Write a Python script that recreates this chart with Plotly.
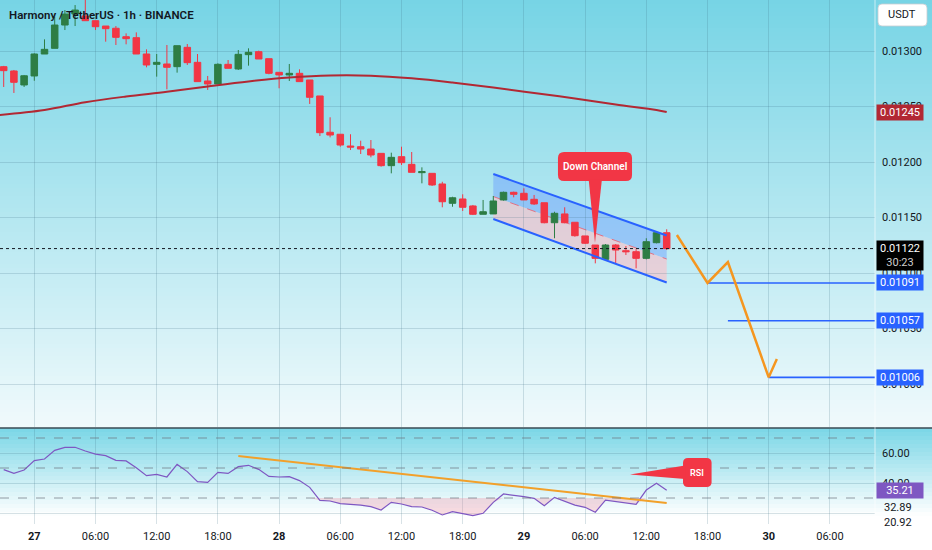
import plotly.graph_objects as go

# ---------------- data ----------------
hours = list(range(-3, 63))  # hourly candles, offset in hours from day 27 00:00

open_p = [0.012859, 0.012820, 0.012694, 0.012775, 0.012973, 0.013024, 0.013234, 0.013333, 0.013315, 0.013273,
          0.013225, 0.013205, 0.013129, 0.013120, 0.012973, 0.012880, 0.012883, 0.012859, 0.013033, 0.012898,
          0.012730, 0.012703, 0.012880, 0.012838, 0.012967, 0.012994, 0.012931, 0.012808, 0.012784, 0.012799,
          0.012739, 0.012595, 0.012268, 0.012250, 0.012144, 0.012138, 0.012117, 0.012078, 0.011967, 0.012048,
          0.011979, 0.011904, 0.011898, 0.011802, 0.011628, 0.011667, 0.011604, 0.011529, 0.011532, 0.011658,
          0.011727, 0.011718, 0.011664, 0.011633, 0.011453, 0.011532, 0.011457, 0.011334, 0.011252, 0.011123,
          0.011252, 0.011201, 0.011192, 0.011132, 0.011273, 0.011363]
high_p = [0.012866, 0.012829, 0.012784, 0.012979, 0.013105, 0.013309, 0.013369, 0.013414, 0.013480, 0.013273,
          0.013225, 0.013225, 0.013159, 0.013168, 0.013015, 0.012973, 0.013054, 0.013048, 0.013063, 0.012973,
          0.012775, 0.012889, 0.012919, 0.013009, 0.013024, 0.013003, 0.012931, 0.012808, 0.012883, 0.012835,
          0.012739, 0.012595, 0.012403, 0.012250, 0.012250, 0.012192, 0.012198, 0.012078, 0.012084, 0.012138,
          0.012090, 0.011952, 0.011898, 0.011822, 0.011687, 0.011709, 0.011613, 0.011658, 0.011694, 0.011733,
          0.011733, 0.011763, 0.011703, 0.011633, 0.011552, 0.011592, 0.011457, 0.011334, 0.011252, 0.011261,
          0.011261, 0.011243, 0.011214, 0.011313, 0.011372, 0.011394]
low_p = [0.012676, 0.012622, 0.012676, 0.012732, 0.012973, 0.013024, 0.013189, 0.013225, 0.013273, 0.013189,
         0.013084, 0.013054, 0.013060, 0.012973, 0.012853, 0.012769, 0.012655, 0.012805, 0.012874, 0.012724,
         0.012649, 0.012703, 0.012844, 0.012829, 0.012868, 0.012928, 0.012790, 0.012664, 0.012730, 0.012724,
         0.012523, 0.012234, 0.012222, 0.012138, 0.012108, 0.012072, 0.012042, 0.011958, 0.011898, 0.011973,
         0.011907, 0.011808, 0.011784, 0.011592, 0.011597, 0.011559, 0.011522, 0.011529, 0.011532, 0.011652,
         0.011682, 0.011658, 0.011613, 0.011448, 0.011313, 0.011448, 0.011327, 0.011261, 0.011087, 0.011117,
         0.011081, 0.011162, 0.011042, 0.011123, 0.011267, 0.011207]
close_p = [0.012823, 0.012718, 0.012777, 0.012973, 0.013015, 0.013234, 0.013333, 0.013369, 0.013273, 0.013219,
           0.013201, 0.013123, 0.013111, 0.012973, 0.012874, 0.012898, 0.012853, 0.013048, 0.012895, 0.012724,
           0.012703, 0.012880, 0.012844, 0.012970, 0.012988, 0.012928, 0.012799, 0.012784, 0.012799, 0.012724,
           0.012583, 0.012264, 0.012243, 0.012153, 0.012135, 0.012117, 0.012063, 0.011967, 0.012042, 0.011994,
           0.011907, 0.011913, 0.011793, 0.011642, 0.011678, 0.011592, 0.011529, 0.011552, 0.011649, 0.011727,
           0.011709, 0.011658, 0.011622, 0.011453, 0.011538, 0.011453, 0.011336, 0.011268, 0.011132, 0.011252,
           0.011207, 0.011192, 0.011132, 0.011282, 0.011363, 0.011220]

rsi_vals = [48.9, 46.4, 48.7, 54.9, 56.0, 61.8, 63.8, 63.8, 61.3, 59.3,
            58.2, 55.1, 54.7, 50.2, 44.9, 45.8, 44.0, 52.4, 47.6, 40.9,
            40.4, 47.1, 46.4, 50.9, 51.8, 49.1, 44.4, 44.0, 44.2, 41.6,
            37.1, 28.4, 28.0, 26.2, 25.8, 25.3, 24.2, 22.0, 27.1, 26.0,
            24.2, 24.0, 21.8, 18.7, 20.9, 19.6, 18.2, 19.8, 27.1, 32.7,
            32.0, 30.9, 29.8, 24.9, 30.4, 28.0, 25.3, 23.8, 20.5, 28.6,
            27.5, 26.7, 25.8, 35.3, 39.8, 35.2]

ma_hours = [-3.4, 1, 5, 9, 13, 17, 21, 25, 29, 33, 37, 41, 45, 49, 53, 57, 61, 62]
ma_vals = [0.012424, 0.012469, 0.012539, 0.012590, 0.012633, 0.012681, 0.012726, 0.012761, 0.012780,
           0.012778, 0.012754, 0.012716, 0.012671, 0.012622, 0.012572, 0.012518, 0.012469, 0.012450]

channel_hours = [45, 62]
channel_upper = [0.011892, 0.011338]
channel_mid = [0.011689, 0.011126]
channel_lower = [0.011487, 0.010914]

proj_hours = [63, 66, 68, 72, 72.8]
proj_prices = [0.011342, 0.010910, 0.011099, 0.010060, 0.010225]

target_levels = [0.01091, 0.01057, 0.01006]
target_start = [66, 68, 72]
target_labels = ["0.01091", "0.01057", "0.01006"]

rsi_trend_hours = [20, 62]
rsi_trend_vals = [58.0, 26.7]

tick_hours = [0, 6, 12, 18, 24, 30, 36, 42, 48, 54, 60, 66, 72, 78]
tick_labels = ["<b>27</b>", "06:00", "12:00", "18:00", "<b>28</b>", "06:00", "12:00", "18:00",
               "<b>29</b>", "06:00", "12:00", "18:00", "<b>30</b>", "06:00"]
price_ticks = [0.0100, 0.0105, 0.0110, 0.0115, 0.0120, 0.0125, 0.0130]

last_price = 0.01122
last_price_text = "0.01122"
countdown = "30:23"
ma_last = 0.01245
ma_last_text = "0.01245"
rsi_last = 35.21
rsi_last_text = "35.21"
extra_rsi_labels = [(24.0, "32.89"), (14.0, "20.92")]

title = "Harmony / TetherUS · 1h · BINANCE"

# ---------------- styling ----------------
W, H = 932, 550
ML, MR, MT, MB = 0, 57, 0, 26
PW = W - ML - MR      # 875
PH = H - MT - MB      # 524
RED = "#F23645"
GREEN = "#2E7D45"
BLUE = "#2962FF"
ORANGE = "#F5961F"
PURPLE = "#7E57C2"
TXT = "#131722"
FONT = "Roboto"

def py2paper(py):
    return 1 - py / PH

main_dom = [py2paper(427), 1.0]
rsi_dom = [0.0, py2paper(429)]
x_range = [-34.3 / 10.2, (PW - 34.3) / 10.2]
y_range = [0.0134595 - 427 / 111000, 0.0134595]
y2_range = [60 - (524 - 453) / 1.5, 60 + (453 - 429) / 1.5]

fig = go.Figure()

# moving average
fig.add_trace(go.Scatter(x=ma_hours, y=ma_vals, mode="lines", line=dict(color="#B22833", width=2, shape="spline"),
                         hoverinfo="skip", showlegend=False, xaxis="x", yaxis="y"))

# candles
fig.add_trace(go.Candlestick(
    x=hours, open=open_p, high=high_p, low=low_p, close=close_p,
    increasing=dict(line=dict(color=GREEN, width=1), fillcolor=GREEN),
    decreasing=dict(line=dict(color=RED, width=1), fillcolor=RED),
    whiskerwidth=0, showlegend=False, xaxis="x", yaxis="y"))

# channel borders
for arr in (channel_upper, channel_lower):
    fig.add_trace(go.Scatter(x=channel_hours, y=arr, mode="lines", line=dict(color=BLUE, width=2),
                             hoverinfo="skip", showlegend=False, xaxis="x", yaxis="y"))

# target levels
for lvl, st in zip(target_levels, target_start):
    fig.add_trace(go.Scatter(x=[st, x_range[1]], y=[lvl, lvl], mode="lines", line=dict(color=BLUE, width=1.6),
                             hoverinfo="skip", showlegend=False, xaxis="x", yaxis="y"))

# projection path
fig.add_trace(go.Scatter(x=proj_hours, y=proj_prices, mode="lines", line=dict(color=ORANGE, width=2.5),
                         hoverinfo="skip", showlegend=False, xaxis="x", yaxis="y"))

# RSI oversold fill
fig.add_trace(go.Scatter(x=hours, y=[30] * len(hours), mode="lines", line=dict(width=0),
                         hoverinfo="skip", showlegend=False, xaxis="x2", yaxis="y2"))
fig.add_trace(go.Scatter(x=hours, y=[min(v, 30) for v in rsi_vals], mode="lines", line=dict(width=0),
                         fill="tonexty", fillcolor="rgba(245,140,160,0.3)",
                         hoverinfo="skip", showlegend=False, xaxis="x2", yaxis="y2"))
fig.add_trace(go.Scatter(x=hours, y=rsi_vals, mode="lines", line=dict(color=PURPLE, width=1.2),
                         hoverinfo="skip", showlegend=False, xaxis="x2", yaxis="y2"))
fig.add_trace(go.Scatter(x=rsi_trend_hours, y=rsi_trend_vals, mode="lines", line=dict(color="#F2A02A", width=2),
                         hoverinfo="skip", showlegend=False, xaxis="x2", yaxis="y2"))

# ---------------- shapes ----------------
shapes = []

def lerp(c0, c1, t):
    t = max(0.0, min(1.0, t))
    return "rgb(%d,%d,%d)" % tuple(round(a + (b - a) * t) for a, b in zip(c0, c1))

XR = W / PW
for i in range(0, 428, 4):
    shapes.append(dict(type="rect", xref="paper", yref="paper", x0=0, x1=XR,
                       y0=py2paper(min(i + 4.6, 428)), y1=py2paper(i), layer="below",
                       line=dict(width=0), fillcolor=lerp((118, 212, 229), (241, 250, 252), (i + 2) / 428)))
for i in range(428, 524, 4):
    shapes.append(dict(type="rect", xref="paper", yref="paper", x0=0, x1=XR,
                       y0=py2paper(min(i + 4.6, 524)), y1=py2paper(i), layer="below",
                       line=dict(width=0), fillcolor=lerp((122, 214, 230), (255, 255, 255), (i + 2 - 428) / 88)))

# channel fills (below the candles)
def poly(xs, ys):
    pts = " L".join(f"{x},{y}" for x, y in zip(xs, ys))
    return f"M{pts} Z"

shapes.append(dict(type="path", xref="x", yref="y", layer="below", line=dict(width=0),
                   fillcolor="rgba(100,150,255,0.42)",
                   path=poly(channel_hours + channel_hours[::-1], channel_upper + channel_mid[::-1])))
shapes.append(dict(type="path", xref="x", yref="y", layer="below", line=dict(width=0),
                   fillcolor="rgba(250,190,200,0.62)",
                   path=poly(channel_hours + channel_hours[::-1], channel_mid + channel_lower[::-1])))
shapes.append(dict(type="line", xref="x", yref="y", layer="below",
                   x0=channel_hours[0], x1=channel_hours[1], y0=channel_mid[0], y1=channel_mid[1],
                   line=dict(color="rgba(230,90,110,0.8)", width=1, dash="dash")))

# pane separator and price-scale border
shapes.append(dict(type="line", xref="paper", yref="paper", x0=0, x1=XR, y0=py2paper(428), y1=py2paper(428),
                   line=dict(color="#3b4a55", width=1.5)))
shapes.append(dict(type="line", xref="paper", yref="paper", x0=1, x1=1, y0=0, y1=1,
                   line=dict(color="rgba(255,255,255,0.6)", width=1)))

# RSI levels
for lv in (70, 50, 30):
    shapes.append(dict(type="line", xref="paper", yref="y2", x0=0, x1=1, y0=lv, y1=lv,
                       line=dict(color="rgba(110,115,125,0.7)", width=1, dash="dash")))

# last price dotted line
shapes.append(dict(type="line", xref="paper", yref="y", x0=0, x1=1, y0=last_price, y1=last_price,
                   line=dict(color="#131722", width=1, dash="dot")))

def rrect(x0, y0, x1, y1, rx, ry):
    return (f"M{x0+rx},{y0} L{x1-rx},{y0} Q{x1},{y0} {x1},{y0+ry} L{x1},{y1-ry} Q{x1},{y1} {x1-rx},{y1} "
            f"L{x0+rx},{y1} Q{x0},{y1} {x0},{y1-ry} L{x0},{y0+ry} Q{x0},{y0} {x0+rx},{y0} Z")

# "Down Channel" callout
shapes.append(dict(type="path", xref="x", yref="y", path=rrect(51.34, 0.011829, 58.6, 0.012090, 0.6, 0.000055),
                   fillcolor=RED, line=dict(width=0)))
shapes.append(dict(type="path", xref="x", yref="y", path="M54.35,0.011845 L55.65,0.011845 L54.97,0.011270 Z",
                   fillcolor=RED, line=dict(width=0)))
# "RSI" callout
shapes.append(dict(type="path", xref="x2", yref="y2", path=rrect(63.6, 37.3, 66.4, 56.7, 0.5, 3.2),
                   fillcolor=RED, line=dict(width=0)))
shapes.append(dict(type="path", xref="x2", yref="y2", path="M63.8,51.7 L63.8,42.7 L58.4,45.7 Z",
                   fillcolor=RED, line=dict(width=0)))

# USDT box
shapes.append(dict(type="path", xref="paper", yref="paper",
                   path=rrect(878 / PW, py2paper(26), 927 / PW, py2paper(4), 4 / PW, 4 / PH),
                   fillcolor="white", line=dict(color="rgba(200,205,210,0.8)", width=1)))

# ---------------- annotations ----------------
ann = []
ann.append(dict(text=title, xref="paper", yref="paper", x=7 / PW, y=py2paper(15), xanchor="left", yanchor="middle",
                showarrow=False, font=dict(family=FONT, size=11.5, color=TXT, weight=600)))
ann.append(dict(text="Down Channel", xref="x", yref="y", x=54.97, y=0.011960, showarrow=False,
                xanchor="center", yanchor="middle",
                font=dict(family=FONT, size=10, color="white", weight=600)))
ann.append(dict(text="RSI", xref="x2", yref="y2", x=65.0, y=47.0, showarrow=False,
                xanchor="center", yanchor="middle",
                font=dict(family=FONT, size=9, color="white", weight=600)))
ann.append(dict(text="USDT", xref="paper", yref="paper", x=902.5 / PW, y=py2paper(15), showarrow=False,
                xanchor="center", yanchor="middle",
                font=dict(family=FONT, size=11, color=TXT)))

def price_label(y, text, bg, yref="y", fg="white", yshift=0):
    return dict(text=text, xref="paper", yref=yref, x=876 / PW, y=y, xanchor="left", yanchor="middle",
                showarrow=False, bgcolor=bg, borderpad=1, width=44, align="center", yshift=yshift,
                font=dict(family=FONT, size=11, color=fg))

ann.append(price_label(ma_last, ma_last_text, "#B22833"))
for lvl, lab in zip(target_levels, target_labels):
    ann.append(price_label(lvl, lab, BLUE))
ann.append(price_label(last_price, f"{last_price_text}<br><span style='color:#cfcfcf'>{countdown}</span>",
                       "#000000", yshift=-6.5))
ann.append(price_label(rsi_last, rsi_last_text, PURPLE, yref="y2"))
for v, lab in extra_rsi_labels:
    ann.append(dict(text=lab, xref="paper", yref="y2", x=882 / PW, y=v, xanchor="left", yanchor="middle",
                    showarrow=False, font=dict(family=FONT, size=11, color=TXT)))

grid = "rgba(60,110,130,0.2)"
fig.update_layout(
    width=W, height=H, margin=dict(l=ML, r=MR, t=MT, b=MB),
    paper_bgcolor="white", plot_bgcolor="rgba(0,0,0,0)",
    showlegend=False, boxgap=0.2, boxgroupgap=0.2,
    font=dict(family=FONT, size=11, color=TXT),
    xaxis=dict(domain=[0, 1], range=x_range, anchor="y", tickvals=tick_hours, showticklabels=False,
               showgrid=True, gridcolor=grid, zeroline=False, rangeslider=dict(visible=False), fixedrange=True),
    xaxis2=dict(domain=[0, 1], range=x_range, anchor="y2", matches="x", tickvals=tick_hours, ticktext=tick_labels,
                showgrid=True, gridcolor=grid, zeroline=False, ticks="", ticklabelstandoff=4,
                tickfont=dict(family=FONT, size=11, color=TXT)),
    yaxis=dict(domain=main_dom, range=y_range, anchor="x", side="right", tickvals=price_ticks, tickformat=".5f",
               showgrid=True, gridcolor=grid, zeroline=False, ticks="", ticklabelstandoff=6,
               tickfont=dict(family=FONT, size=11, color=TXT)),
    yaxis2=dict(domain=rsi_dom, range=y2_range, anchor="x2", side="right", tickvals=[20, 40, 60],
                ticktext=["", "40.00", "60.00"], showgrid=True, gridcolor=grid, zeroline=False, ticks="",
                ticklabelstandoff=6, tickfont=dict(family=FONT, size=11, color=TXT)),
    shapes=shapes, annotations=ann,
)

fig.write_html("out.html", config={"displayModeBar": False},
               post_script="document.body.style.margin='0';document.body.style.overflow='hidden';")
